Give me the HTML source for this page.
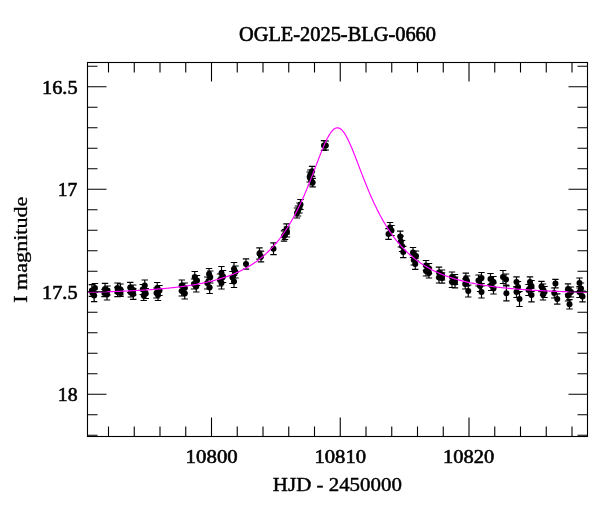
<!DOCTYPE html>
<html><head><meta charset="utf-8"><style>html,body{margin:0;padding:0;background:#fff;width:600px;height:512px;overflow:hidden}svg{display:block;will-change:transform}</style></head>
<body><svg width="600" height="512" viewBox="0 0 600 512">
<rect width="600" height="512" fill="#fff"/>
<path d="M94.90 283.50V292.50M91.70 283.50h6.4M91.70 292.50h6.4M91.90 284.70V296.30M88.70 284.70h6.4M88.70 296.30h6.4M92.44 289.50V296.50M89.24 289.50h6.4M89.24 296.50h6.4M94.15 289.40V301.60M90.95 289.40h6.4M90.95 301.60h6.4M105.00 283.30V294.70M101.80 283.30h6.4M101.80 294.70h6.4M107.50 286.00V295.00M104.30 286.00h6.4M104.30 295.00h6.4M104.50 289.30V296.70M101.30 289.30h6.4M101.30 296.70h6.4M107.00 289.00V300.00M103.80 289.00h6.4M103.80 300.00h6.4M117.50 283.00V293.00M114.30 283.00h6.4M114.30 293.00h6.4M120.50 284.00V295.00M117.30 284.00h6.4M117.30 295.00h6.4M117.50 287.30V296.70M114.30 287.30h6.4M114.30 296.70h6.4M120.50 289.50V296.50M117.30 289.50h6.4M117.30 296.50h6.4M130.25 282.30V292.70M127.05 282.30h6.4M127.05 292.70h6.4M133.25 285.00V295.00M130.05 285.00h6.4M130.05 295.00h6.4M130.85 288.00V297.00M127.65 288.00h6.4M127.65 297.00h6.4M133.25 288.70V299.30M130.05 288.70h6.4M130.05 299.30h6.4M144.75 280.00V291.00M141.55 280.00h6.4M141.55 291.00h6.4M142.75 284.50V294.50M139.55 284.50h6.4M139.55 294.50h6.4M145.75 288.50V298.50M142.55 288.50h6.4M142.55 298.50h6.4M143.75 290.50V300.50M140.55 290.50h6.4M140.55 300.50h6.4M157.25 282.50V293.50M154.05 282.50h6.4M154.05 293.50h6.4M159.50 285.50V295.50M156.30 285.50h6.4M156.30 295.50h6.4M156.50 288.00V298.00M153.30 288.00h6.4M153.30 298.00h6.4M158.00 289.50V300.50M154.80 289.50h6.4M154.80 300.50h6.4M181.75 280.00V291.00M178.55 280.00h6.4M178.55 291.00h6.4M184.75 283.00V293.00M181.55 283.00h6.4M181.55 293.00h6.4M181.75 286.00V296.00M178.55 286.00h6.4M178.55 296.00h6.4M184.75 288.00V299.00M181.55 288.00h6.4M181.55 299.00h6.4M194.75 271.50V282.50M191.55 271.50h6.4M191.55 282.50h6.4M197.00 275.50V285.50M193.80 275.50h6.4M193.80 285.50h6.4M194.00 279.00V289.00M190.80 279.00h6.4M190.80 289.00h6.4M196.25 281.00V292.00M193.05 281.00h6.4M193.05 292.00h6.4M209.05 268.50V279.50M205.85 268.50h6.4M205.85 279.50h6.4M210.25 271.00V283.00M207.05 271.00h6.4M207.05 283.00h6.4M207.25 277.00V289.00M204.05 277.00h6.4M204.05 289.00h6.4M209.65 281.50V293.50M206.45 281.50h6.4M206.45 293.50h6.4M221.50 266.50V279.50M218.30 266.50h6.4M218.30 279.50h6.4M223.00 270.50V282.50M219.80 270.50h6.4M219.80 282.50h6.4M220.00 274.00V286.00M216.80 274.00h6.4M216.80 286.00h6.4M221.50 277.00V289.00M218.30 277.00h6.4M218.30 289.00h6.4M234.00 262.50V275.50M230.80 262.50h6.4M230.80 275.50h6.4M235.50 266.00V278.00M232.30 266.00h6.4M232.30 278.00h6.4M232.50 271.50V283.50M229.30 271.50h6.4M229.30 283.50h6.4M234.00 275.50V287.50M230.80 275.50h6.4M230.80 287.50h6.4M246.00 258.80V269.20M242.80 258.80h6.4M242.80 269.20h6.4M259.50 247.80V259.20M256.30 247.80h6.4M256.30 259.20h6.4M261.00 251.20V261.80M257.80 251.20h6.4M257.80 261.80h6.4M273.50 242.90V254.70M270.30 242.90h6.4M270.30 254.70h6.4M286.50 223.80V234.20M283.30 223.80h6.4M283.30 234.20h6.4M287.00 227.00V237.00M283.80 227.00h6.4M283.80 237.00h6.4M285.00 229.50V239.50M281.80 229.50h6.4M281.80 239.50h6.4M284.00 230.80V241.20M280.80 230.80h6.4M280.80 241.20h6.4M300.50 199.50V209.50M297.30 199.50h6.4M297.30 209.50h6.4M299.50 203.00V213.00M296.30 203.00h6.4M296.30 213.00h6.4M298.00 206.00V216.00M294.80 206.00h6.4M294.80 216.00h6.4M297.00 208.00V218.00M293.80 208.00h6.4M293.80 218.00h6.4M312.09 166.30V176.30M308.89 166.30h6.4M308.89 176.30h6.4M310.43 170.00V179.00M307.23 170.00h6.4M307.23 179.00h6.4M309.65 172.00V182.00M306.45 172.00h6.4M306.45 182.00h6.4M310.98 175.00V185.00M307.78 175.00h6.4M307.78 185.00h6.4M312.65 178.30V186.90M309.45 178.30h6.4M309.45 186.90h6.4M324.00 140.70V150.30M320.80 140.70h6.4M320.80 150.30h6.4M325.80 141.00V150.00M322.60 141.00h6.4M322.60 150.00h6.4M390.00 222.50V232.50M386.80 222.50h6.4M386.80 232.50h6.4M391.50 225.50V235.50M388.30 225.50h6.4M388.30 235.50h6.4M388.50 228.60V239.40M385.30 228.60h6.4M385.30 239.40h6.4M400.25 231.20V241.80M397.05 231.20h6.4M397.05 241.80h6.4M400.85 236.00V247.00M397.65 236.00h6.4M397.65 247.00h6.4M402.05 240.50V251.50M398.85 240.50h6.4M398.85 251.50h6.4M403.25 246.40V257.60M400.05 246.40h6.4M400.05 257.60h6.4M413.00 247.50V257.50M409.80 247.50h6.4M409.80 257.50h6.4M416.00 251.00V261.00M412.80 251.00h6.4M412.80 261.00h6.4M413.75 255.00V265.00M410.55 255.00h6.4M410.55 265.00h6.4M415.25 258.70V269.30M412.05 258.70h6.4M412.05 269.30h6.4M426.00 260.50V270.50M422.80 260.50h6.4M422.80 270.50h6.4M429.00 263.50V273.50M425.80 263.50h6.4M425.80 273.50h6.4M426.00 266.00V276.00M422.80 266.00h6.4M422.80 276.00h6.4M429.00 268.00V278.00M425.80 268.00h6.4M425.80 278.00h6.4M439.00 267.20V277.80M435.80 267.20h6.4M435.80 277.80h6.4M442.00 270.00V280.00M438.80 270.00h6.4M438.80 280.00h6.4M439.00 272.00V283.00M435.80 272.00h6.4M435.80 283.00h6.4M442.00 272.80V283.20M438.80 272.80h6.4M438.80 283.20h6.4M452.00 272.00V282.00M448.80 272.00h6.4M448.80 282.00h6.4M455.00 274.50V284.50M451.80 274.50h6.4M451.80 284.50h6.4M452.00 276.50V287.50M448.80 276.50h6.4M448.80 287.50h6.4M455.00 277.20V287.80M451.80 277.20h6.4M451.80 287.80h6.4M465.85 273.20V283.80M462.65 273.20h6.4M462.65 283.80h6.4M467.05 276.00V286.00M463.85 276.00h6.4M463.85 286.00h6.4M465.25 279.00V289.00M462.05 279.00h6.4M462.05 289.00h6.4M468.25 285.00V297.00M465.05 285.00h6.4M465.05 297.00h6.4M481.50 272.50V283.50M478.30 272.50h6.4M478.30 283.50h6.4M478.50 275.00V286.00M475.30 275.00h6.4M475.30 286.00h6.4M480.00 280.50V291.50M476.80 280.50h6.4M476.80 291.50h6.4M481.50 286.00V298.00M478.30 286.00h6.4M478.30 298.00h6.4M490.50 273.50V284.50M487.30 273.50h6.4M487.30 284.50h6.4M493.50 276.50V287.50M490.30 276.50h6.4M490.30 287.50h6.4M491.25 279.50V290.50M488.05 279.50h6.4M488.05 290.50h6.4M493.50 283.00V294.00M490.30 283.00h6.4M490.30 294.00h6.4M503.00 270.50V283.50M499.80 270.50h6.4M499.80 283.50h6.4M506.00 274.00V285.00M502.80 274.00h6.4M502.80 285.00h6.4M506.40 285.80V300.80M503.20 285.80h6.4M503.20 300.80h6.4M516.50 276.80V287.20M513.30 276.80h6.4M513.30 287.20h6.4M518.00 281.50V292.50M514.80 281.50h6.4M514.80 292.50h6.4M516.50 286.50V297.50M513.30 286.50h6.4M513.30 297.50h6.4M519.50 291.50V306.50M516.30 291.50h6.4M516.30 306.50h6.4M530.00 276.80V287.20M526.80 276.80h6.4M526.80 287.20h6.4M531.50 280.50V291.50M528.30 280.50h6.4M528.30 291.50h6.4M528.50 284.50V295.50M525.30 284.50h6.4M525.30 295.50h6.4M531.50 288.20V301.80M528.30 288.20h6.4M528.30 301.80h6.4M541.50 281.40V291.60M538.30 281.40h6.4M538.30 291.60h6.4M543.00 284.00V295.00M539.80 284.00h6.4M539.80 295.00h6.4M544.50 286.50V297.50M541.30 286.50h6.4M541.30 297.50h6.4M543.00 289.00V300.00M539.80 289.00h6.4M539.80 300.00h6.4M555.45 279.30V287.90M552.25 279.30h6.4M552.25 287.90h6.4M554.25 288.00V298.00M551.05 288.00h6.4M551.05 298.00h6.4M557.25 293.80V304.20M554.05 293.80h6.4M554.05 304.20h6.4M568.00 283.80V294.20M564.80 283.80h6.4M564.80 294.20h6.4M571.00 287.00V297.00M567.80 287.00h6.4M567.80 297.00h6.4M568.00 290.00V301.00M564.80 290.00h6.4M564.80 301.00h6.4M569.50 299.60V309.00M566.30 299.60h6.4M566.30 309.00h6.4M579.50 278.00V288.00M576.30 278.00h6.4M576.30 288.00h6.4M581.00 283.00V294.00M577.80 283.00h6.4M577.80 294.00h6.4M579.50 286.50V297.50M576.30 286.50h6.4M576.30 297.50h6.4M582.50 291.00V301.80M579.30 291.00h6.4M579.30 301.80h6.4" stroke="#000" stroke-width="1.2" fill="none"/><g fill="#000"><circle cx="94.90" cy="288.00" r="3.0"/><circle cx="91.90" cy="290.50" r="3.0"/><circle cx="92.44" cy="293.00" r="3.0"/><circle cx="94.15" cy="295.50" r="3.0"/><circle cx="105.00" cy="289.00" r="3.0"/><circle cx="107.50" cy="290.50" r="3.0"/><circle cx="104.50" cy="293.00" r="3.0"/><circle cx="107.00" cy="294.50" r="3.0"/><circle cx="117.50" cy="288.00" r="3.0"/><circle cx="120.50" cy="289.50" r="3.0"/><circle cx="117.50" cy="292.00" r="3.0"/><circle cx="120.50" cy="293.00" r="3.0"/><circle cx="130.25" cy="287.50" r="3.0"/><circle cx="133.25" cy="290.00" r="3.0"/><circle cx="130.85" cy="292.50" r="3.0"/><circle cx="133.25" cy="294.00" r="3.0"/><circle cx="144.75" cy="285.50" r="3.0"/><circle cx="142.75" cy="289.50" r="3.0"/><circle cx="145.75" cy="293.50" r="3.0"/><circle cx="143.75" cy="295.50" r="3.0"/><circle cx="157.25" cy="288.00" r="3.0"/><circle cx="159.50" cy="290.50" r="3.0"/><circle cx="156.50" cy="293.00" r="3.0"/><circle cx="158.00" cy="295.00" r="3.0"/><circle cx="181.75" cy="285.50" r="3.0"/><circle cx="184.75" cy="288.00" r="3.0"/><circle cx="181.75" cy="291.00" r="3.0"/><circle cx="184.75" cy="293.50" r="3.0"/><circle cx="194.75" cy="277.00" r="3.0"/><circle cx="197.00" cy="280.50" r="3.0"/><circle cx="194.00" cy="284.00" r="3.0"/><circle cx="196.25" cy="286.50" r="3.0"/><circle cx="209.05" cy="274.00" r="3.0"/><circle cx="210.25" cy="277.00" r="3.0"/><circle cx="207.25" cy="283.00" r="3.0"/><circle cx="209.65" cy="287.50" r="3.0"/><circle cx="221.50" cy="273.00" r="3.0"/><circle cx="223.00" cy="276.50" r="3.0"/><circle cx="220.00" cy="280.00" r="3.0"/><circle cx="221.50" cy="283.00" r="3.0"/><circle cx="234.00" cy="269.00" r="3.0"/><circle cx="235.50" cy="272.00" r="3.0"/><circle cx="232.50" cy="277.50" r="3.0"/><circle cx="234.00" cy="281.50" r="3.0"/><circle cx="246.00" cy="264.00" r="3.0"/><circle cx="259.50" cy="253.50" r="3.0"/><circle cx="261.00" cy="256.50" r="3.0"/><circle cx="273.50" cy="248.80" r="3.0"/><circle cx="286.50" cy="229.00" r="3.0"/><circle cx="287.00" cy="232.00" r="3.0"/><circle cx="285.00" cy="234.50" r="3.0"/><circle cx="284.00" cy="236.00" r="3.0"/><circle cx="300.50" cy="204.50" r="3.0"/><circle cx="299.50" cy="208.00" r="3.0"/><circle cx="298.00" cy="211.00" r="3.0"/><circle cx="297.00" cy="213.00" r="3.0"/><circle cx="312.09" cy="171.30" r="3.0"/><circle cx="310.43" cy="174.50" r="3.0"/><circle cx="309.65" cy="177.00" r="3.0"/><circle cx="310.98" cy="180.00" r="3.0"/><circle cx="312.65" cy="182.60" r="3.0"/><circle cx="324.00" cy="145.50" r="3.0"/><circle cx="325.80" cy="145.50" r="3.0"/><circle cx="390.00" cy="227.50" r="3.0"/><circle cx="391.50" cy="230.50" r="3.0"/><circle cx="388.50" cy="234.00" r="3.0"/><circle cx="400.25" cy="236.50" r="3.0"/><circle cx="400.85" cy="241.50" r="3.0"/><circle cx="402.05" cy="246.00" r="3.0"/><circle cx="403.25" cy="252.00" r="3.0"/><circle cx="413.00" cy="252.50" r="3.0"/><circle cx="416.00" cy="256.00" r="3.0"/><circle cx="413.75" cy="260.00" r="3.0"/><circle cx="415.25" cy="264.00" r="3.0"/><circle cx="426.00" cy="265.50" r="3.0"/><circle cx="429.00" cy="268.50" r="3.0"/><circle cx="426.00" cy="271.00" r="3.0"/><circle cx="429.00" cy="273.00" r="3.0"/><circle cx="439.00" cy="272.50" r="3.0"/><circle cx="442.00" cy="275.00" r="3.0"/><circle cx="439.00" cy="277.50" r="3.0"/><circle cx="442.00" cy="278.00" r="3.0"/><circle cx="452.00" cy="277.00" r="3.0"/><circle cx="455.00" cy="279.50" r="3.0"/><circle cx="452.00" cy="282.00" r="3.0"/><circle cx="455.00" cy="282.50" r="3.0"/><circle cx="465.85" cy="278.50" r="3.0"/><circle cx="467.05" cy="281.00" r="3.0"/><circle cx="465.25" cy="284.00" r="3.0"/><circle cx="468.25" cy="291.00" r="3.0"/><circle cx="481.50" cy="278.00" r="3.0"/><circle cx="478.50" cy="280.50" r="3.0"/><circle cx="480.00" cy="286.00" r="3.0"/><circle cx="481.50" cy="292.00" r="3.0"/><circle cx="490.50" cy="279.00" r="3.0"/><circle cx="493.50" cy="282.00" r="3.0"/><circle cx="491.25" cy="285.00" r="3.0"/><circle cx="493.50" cy="288.50" r="3.0"/><circle cx="503.00" cy="277.00" r="3.0"/><circle cx="506.00" cy="279.50" r="3.0"/><circle cx="506.40" cy="293.30" r="3.0"/><circle cx="516.50" cy="282.00" r="3.0"/><circle cx="518.00" cy="287.00" r="3.0"/><circle cx="516.50" cy="292.00" r="3.0"/><circle cx="519.50" cy="299.00" r="3.0"/><circle cx="530.00" cy="282.00" r="3.0"/><circle cx="531.50" cy="286.00" r="3.0"/><circle cx="528.50" cy="290.00" r="3.0"/><circle cx="531.50" cy="295.00" r="3.0"/><circle cx="541.50" cy="286.50" r="3.0"/><circle cx="543.00" cy="289.50" r="3.0"/><circle cx="544.50" cy="292.00" r="3.0"/><circle cx="543.00" cy="294.50" r="3.0"/><circle cx="555.45" cy="283.60" r="3.0"/><circle cx="554.25" cy="293.00" r="3.0"/><circle cx="557.25" cy="299.00" r="3.0"/><circle cx="568.00" cy="289.00" r="3.0"/><circle cx="571.00" cy="292.00" r="3.0"/><circle cx="568.00" cy="295.50" r="3.0"/><circle cx="569.50" cy="304.30" r="3.0"/><circle cx="579.50" cy="283.00" r="3.0"/><circle cx="581.00" cy="288.50" r="3.0"/><circle cx="579.50" cy="292.00" r="3.0"/><circle cx="582.50" cy="296.40" r="3.0"/></g>
<polyline points="87.51,292.31 88.52,292.28 89.52,292.26 90.52,292.23 91.52,292.21 92.52,292.18 93.53,292.16 94.53,292.13 95.53,292.10 96.53,292.08 97.53,292.05 98.53,292.02 99.54,291.99 100.54,291.96 101.54,291.93 102.54,291.90 103.54,291.87 104.55,291.84 105.55,291.81 106.55,291.78 107.55,291.75 108.55,291.71 109.56,291.68 110.56,291.64 111.56,291.61 112.56,291.57 113.56,291.54 114.56,291.50 115.57,291.46 116.57,291.43 117.57,291.39 118.57,291.35 119.57,291.31 120.58,291.27 121.58,291.22 122.58,291.18 123.58,291.14 124.58,291.10 125.59,291.05 126.59,291.01 127.59,290.96 128.59,290.91 129.59,290.86 130.59,290.82 131.60,290.77 132.60,290.72 133.60,290.66 134.60,290.61 135.60,290.56 136.61,290.50 137.61,290.45 138.61,290.39 139.61,290.34 140.61,290.28 141.62,290.22 142.62,290.16 143.62,290.09 144.62,290.03 145.62,289.97 146.62,289.90 147.63,289.84 148.63,289.77 149.63,289.70 150.63,289.63 151.63,289.56 152.64,289.48 153.64,289.41 154.64,289.33 155.64,289.25 156.64,289.18 157.65,289.10 158.65,289.01 159.65,288.93 160.65,288.84 161.65,288.76 162.65,288.67 163.66,288.58 164.66,288.49 165.66,288.39 166.66,288.29 167.66,288.20 168.67,288.10 169.67,288.00 170.67,287.89 171.67,287.78 172.67,287.68 173.68,287.57 174.68,287.45 175.68,287.34 176.68,287.22 177.68,287.10 178.68,286.98 179.69,286.85 180.69,286.73 181.69,286.60 182.69,286.46 183.69,286.33 184.70,286.19 185.70,286.05 186.70,285.91 187.70,285.76 188.70,285.61 189.71,285.45 190.71,285.30 191.71,285.14 192.71,284.97 193.71,284.81 194.71,284.64 195.72,284.46 196.72,284.28 197.72,284.10 198.72,283.91 199.72,283.72 200.73,283.53 201.73,283.33 202.73,283.13 203.73,282.92 204.73,282.71 205.74,282.49 206.74,282.27 207.74,282.04 208.74,281.81 209.74,281.58 210.74,281.33 211.75,281.09 212.75,280.83 213.75,280.58 214.75,280.31 215.75,280.04 216.76,279.76 217.76,279.48 218.76,279.19 219.76,278.89 220.76,278.59 221.77,278.28 222.77,277.96 223.77,277.64 224.77,277.31 225.77,276.97 226.77,276.62 227.78,276.26 228.78,275.90 229.78,275.52 230.78,275.14 231.78,274.75 232.79,274.35 233.79,273.94 234.79,273.52 235.79,273.09 236.79,272.65 237.80,272.20 238.80,271.73 239.80,271.26 240.80,270.78 241.80,270.28 242.80,269.77 243.81,269.25 244.81,268.71 245.81,268.17 246.81,267.61 247.81,267.03 248.82,266.44 249.82,265.84 250.82,265.22 251.82,264.59 252.82,263.94 253.83,263.27 254.83,262.59 255.83,261.89 256.83,261.17 257.83,260.43 258.83,259.68 259.84,258.91 260.84,258.11 261.84,257.30 262.84,256.46 263.84,255.61 264.85,254.73 265.85,253.83 266.85,252.91 267.85,251.96 268.85,250.99 269.86,249.99 270.86,248.97 271.86,247.92 272.86,246.84 273.86,245.74 274.86,244.61 275.87,243.45 276.87,242.26 277.87,241.03 278.87,239.78 279.87,238.49 280.88,237.17 281.88,235.82 282.88,234.43 283.88,233.01 284.88,231.55 285.89,230.05 286.89,228.52 287.89,226.94 288.89,225.33 289.89,223.67 290.89,221.98 291.90,220.24 292.90,218.46 293.90,216.63 294.90,214.77 295.90,212.85 296.91,210.90 297.91,208.90 298.91,206.85 299.91,204.76 300.91,202.62 301.92,200.44 302.92,198.21 303.92,195.94 304.92,193.62 305.92,191.26 306.92,188.86 307.93,186.43 308.93,183.95 309.93,181.44 310.93,178.90 311.93,176.34 312.94,173.75 313.94,171.14 314.94,168.51 315.94,165.88 316.94,163.25 317.95,160.63 318.95,158.03 319.95,155.45 320.95,152.90 321.95,150.41 322.95,147.97 323.96,145.61 324.96,143.34 325.96,141.16 326.96,139.10 327.96,137.17 328.97,135.38 329.97,133.75 330.97,132.29 331.97,131.02 332.97,129.95 333.98,129.08 334.98,128.43 335.98,128.00 336.98,127.80 337.98,127.83 338.98,128.08 339.99,128.57 340.99,129.27 341.99,130.19 342.99,131.32 343.99,132.63 345.00,134.13 346.00,135.80 347.00,137.63 348.00,139.59 349.00,141.68 350.01,143.89 351.01,146.19 352.01,148.57 353.01,151.02 354.01,153.53 355.01,156.08 356.02,158.67 357.02,161.28 358.02,163.90 359.02,166.53 360.02,169.16 361.03,171.78 362.03,174.39 363.03,176.97 364.03,179.53 365.03,182.06 366.04,184.57 367.04,187.03 368.04,189.46 369.04,191.85 370.04,194.20 371.04,196.50 372.05,198.76 373.05,200.98 374.05,203.15 375.05,205.28 376.05,207.36 377.06,209.39 378.06,211.38 379.06,213.33 380.06,215.23 381.06,217.09 382.07,218.90 383.07,220.67 384.07,222.40 385.07,224.08 386.07,225.73 387.07,227.33 388.08,228.90 389.08,230.42 390.08,231.91 391.08,233.36 392.08,234.78 393.09,236.16 394.09,237.50 395.09,238.81 396.09,240.09 397.09,241.34 398.10,242.55 399.10,243.74 400.10,244.89 401.10,246.02 402.10,247.11 403.10,248.18 404.11,249.22 405.11,250.24 406.11,251.23 407.11,252.19 408.11,253.14 409.12,254.05 410.12,254.95 411.12,255.82 412.12,256.67 413.12,257.50 414.13,258.31 415.13,259.10 416.13,259.87 417.13,260.62 418.13,261.35 419.13,262.06 420.14,262.76 421.14,263.44 422.14,264.10 423.14,264.74 424.14,265.37 425.15,265.99 426.15,266.59 427.15,267.17 428.15,267.75 429.15,268.30 430.16,268.85 431.16,269.38 432.16,269.90 433.16,270.40 434.16,270.90 435.16,271.38 436.17,271.85 437.17,272.31 438.17,272.76 439.17,273.19 440.17,273.62 441.18,274.04 442.18,274.45 443.18,274.85 444.18,275.24 445.18,275.62 446.19,275.99 447.19,276.35 448.19,276.70 449.19,277.05 450.19,277.39 451.19,277.72 452.20,278.04 453.20,278.36 454.20,278.67 455.20,278.97 456.20,279.26 457.21,279.55 458.21,279.83 459.21,280.11 460.21,280.38 461.21,280.64 462.22,280.90 463.22,281.15 464.22,281.39 465.22,281.64 466.22,281.87 467.22,282.10 468.23,282.33 469.23,282.55 470.23,282.76 471.23,282.97 472.23,283.18 473.24,283.38 474.24,283.58 475.24,283.77 476.24,283.96 477.24,284.15 478.25,284.33 479.25,284.50 480.25,284.68 481.25,284.85 482.25,285.01 483.25,285.18 484.26,285.34 485.26,285.49 486.26,285.64 487.26,285.79 488.26,285.94 489.27,286.08 490.27,286.22 491.27,286.36 492.27,286.50 493.27,286.63 494.28,286.76 495.28,286.89 496.28,287.01 497.28,287.13 498.28,287.25 499.28,287.37 500.29,287.48 501.29,287.59 502.29,287.70 503.29,287.81 504.29,287.92 505.30,288.02 506.30,288.12 507.30,288.22 508.30,288.32 509.30,288.41 510.31,288.51 511.31,288.60 512.31,288.69 513.31,288.78 514.31,288.87 515.31,288.95 516.32,289.03 517.32,289.12 518.32,289.20 519.32,289.27 520.32,289.35 521.33,289.43 522.33,289.50 523.33,289.57 524.33,289.65 525.33,289.72 526.34,289.78 527.34,289.85 528.34,289.92 529.34,289.98 530.34,290.05 531.34,290.11 532.35,290.17 533.35,290.23 534.35,290.29 535.35,290.35 536.35,290.41 537.36,290.46 538.36,290.52 539.36,290.57 540.36,290.62 541.36,290.68 542.37,290.73 543.37,290.78 544.37,290.83 545.37,290.88 546.37,290.92 547.37,290.97 548.38,291.02 549.38,291.06 550.38,291.11 551.38,291.15 552.38,291.19 553.39,291.24 554.39,291.28 555.39,291.32 556.39,291.36 557.39,291.40 558.40,291.44 559.40,291.47 560.40,291.51 561.40,291.55 562.40,291.58 563.40,291.62 564.41,291.65 565.41,291.69 566.41,291.72 567.41,291.75 568.41,291.79 569.42,291.82 570.42,291.85 571.42,291.88 572.42,291.91 573.42,291.94 574.43,291.97 575.43,292.00 576.43,292.03 577.43,292.06 578.43,292.08 579.43,292.11 580.44,292.14 581.44,292.16 582.44,292.19 583.44,292.22 584.44,292.24 585.45,292.26 586.45,292.29 587.45,292.31" fill="none" stroke="#ff00ff" stroke-width="1.15"/>
<rect x="87.5" y="62.5" width="500.0" height="374.0" fill="none" stroke="#000" stroke-width="1.1"/><path d="M108.50 436.5V426.5M108.50 62.5V72.5M134.25 436.5V426.5M134.25 62.5V72.5M160.00 436.5V426.5M160.00 62.5V72.5M185.75 436.5V426.5M185.75 62.5V72.5M211.50 436.5V417.5M211.50 62.5V81.5M237.25 436.5V426.5M237.25 62.5V72.5M263.00 436.5V426.5M263.00 62.5V72.5M288.75 436.5V426.5M288.75 62.5V72.5M314.50 436.5V426.5M314.50 62.5V72.5M340.25 436.5V417.5M340.25 62.5V81.5M366.00 436.5V426.5M366.00 62.5V72.5M391.75 436.5V426.5M391.75 62.5V72.5M417.50 436.5V426.5M417.50 62.5V72.5M443.25 436.5V426.5M443.25 62.5V72.5M469.00 436.5V417.5M469.00 62.5V81.5M494.75 436.5V426.5M494.75 62.5V72.5M520.50 436.5V426.5M520.50 62.5V72.5M546.25 436.5V426.5M546.25 62.5V72.5M572.00 436.5V426.5M572.00 62.5V72.5M87.5 66.25H97.5M587.5 66.25H577.5M87.5 86.75H106.5M587.5 86.75H568.5M87.5 107.25H97.5M587.5 107.25H577.5M87.5 127.75H97.5M587.5 127.75H577.5M87.5 148.25H97.5M587.5 148.25H577.5M87.5 168.75H97.5M587.5 168.75H577.5M87.5 189.25H106.5M587.5 189.25H568.5M87.5 209.75H97.5M587.5 209.75H577.5M87.5 230.25H97.5M587.5 230.25H577.5M87.5 250.75H97.5M587.5 250.75H577.5M87.5 271.25H97.5M587.5 271.25H577.5M87.5 291.75H106.5M587.5 291.75H568.5M87.5 312.25H97.5M587.5 312.25H577.5M87.5 332.75H97.5M587.5 332.75H577.5M87.5 353.25H97.5M587.5 353.25H577.5M87.5 373.75H97.5M587.5 373.75H577.5M87.5 394.25H106.5M587.5 394.25H568.5M87.5 414.75H97.5M587.5 414.75H577.5M87.5 435.25H97.5M587.5 435.25H577.5" stroke="#000" stroke-width="1.1" fill="none"/>
<text transform="matrix(0.20396 0 0 0.20448 238.984 41.291)" font-family="Liberation Serif" font-size="100" fill="#000" stroke="#000" stroke-width="0.6" vector-effect="non-scaling-stroke">OGLE-2025-BLG-0660</text><text transform="matrix(0.20309 0 0 0.18971 42.072 93.721)" font-family="Liberation Serif" font-size="100" fill="#000" stroke="#000" stroke-width="0.6" vector-effect="non-scaling-stroke">16.5</text><text transform="matrix(0.19545 0 0 0.19242 57.841 196.300)" font-family="Liberation Serif" font-size="100" fill="#000" stroke="#000" stroke-width="0.6" vector-effect="non-scaling-stroke">17</text><text transform="matrix(0.20309 0 0 0.19701 42.072 298.903)" font-family="Liberation Serif" font-size="100" fill="#000" stroke="#000" stroke-width="0.6" vector-effect="non-scaling-stroke">17.5</text><text transform="matrix(0.19770 0 0 0.18824 57.821 400.724)" font-family="Liberation Serif" font-size="100" fill="#000" stroke="#000" stroke-width="0.6" vector-effect="non-scaling-stroke">18</text><text transform="matrix(0.20844 0 0 0.19559 185.624 463.309)" font-family="Liberation Serif" font-size="100" fill="#000" stroke="#000" stroke-width="0.6" vector-effect="non-scaling-stroke">10800</text><text transform="matrix(0.20675 0 0 0.19559 314.439 463.309)" font-family="Liberation Serif" font-size="100" fill="#000" stroke="#000" stroke-width="0.6" vector-effect="non-scaling-stroke">10810</text><text transform="matrix(0.20506 0 0 0.19559 442.954 463.309)" font-family="Liberation Serif" font-size="100" fill="#000" stroke="#000" stroke-width="0.6" vector-effect="non-scaling-stroke">10820</text><text transform="matrix(0.20934 0 0 0.19552 272.872 491.209)" font-family="Liberation Serif" font-size="100" fill="#000" stroke="#000" stroke-width="0.45" vector-effect="non-scaling-stroke">HJD - 2450000</text><text transform="matrix(0 -0.22114 0.18778 0 26.557 302.785)" font-family="Liberation Serif" font-size="100" fill="#000" stroke="#000" stroke-width="0.35" vector-effect="non-scaling-stroke">I magnitude</text>
</svg></body></html>
